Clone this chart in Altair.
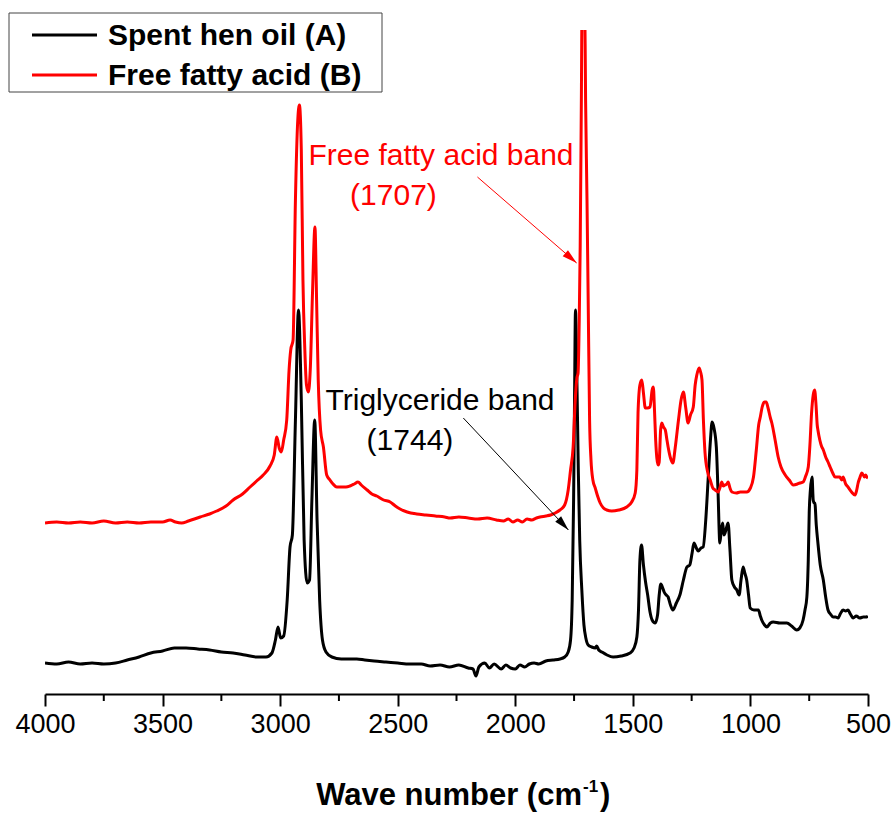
import altair as alt
import pandas as pd

# ---------------- data ----------------
series_names = ["Spent hen oil (A)", "Free fatty acid (B)"]
series_colors = ["#000000", "#ff0000"]

# Spent hen oil (A): wavenumber (cm-1) and absorbance (arbitrary units)
wn_a = [4000, 3950, 3900, 3850, 3800, 3750, 3700, 3650, 3600, 3550,
        3500, 3450, 3400, 3350, 3300, 3250, 3200, 3150, 3100, 3060,
        3035, 3020, 3009, 2998, 2985, 2970, 2958, 2948, 2935, 2922,
        2910, 2898, 2885, 2875, 2865, 2853, 2843, 2832, 2820, 2805,
        2780, 2740, 2700, 2674, 2640, 2600, 2550, 2500, 2450, 2400,
        2362, 2320, 2280, 2240, 2200, 2180, 2167, 2155, 2130, 2110,
        2090, 2060, 2040, 2020, 2000, 1980, 1960, 1940, 1920, 1900,
        1870, 1840, 1810, 1790, 1775, 1765, 1758, 1752, 1748, 1744,
        1738, 1732, 1726, 1717, 1708, 1700, 1690, 1675, 1660, 1654,
        1645, 1632, 1610, 1584, 1550, 1512, 1495, 1483, 1476, 1470,
        1463, 1455, 1446, 1437, 1427, 1418, 1405, 1395, 1388, 1381,
        1373, 1367, 1358, 1350, 1340, 1330, 1315, 1300, 1285, 1270,
        1258, 1248, 1240, 1230, 1222, 1210, 1201, 1190, 1180, 1170,
        1163, 1155, 1145, 1138, 1130, 1124, 1118, 1113, 1108, 1101,
        1095, 1087, 1079, 1068, 1058, 1048, 1040, 1031, 1024, 1016,
        1008, 1001, 985, 966, 958, 952, 940, 930, 915, 903,
        875, 845, 825, 803, 790, 776, 768, 760, 754, 750,
        745, 738, 733, 729, 726, 720, 713, 703, 690, 680,
        670, 660, 648, 638, 627, 618, 606, 595, 585, 575,
        563, 550, 535, 520, 505, 500]
abs_a = [31, 30, 32, 30, 31, 30, 31, 34, 37, 41,
         43, 46, 46, 45, 44, 42, 41, 39, 37, 37,
         41, 54, 67, 56, 58, 94, 147, 159, 274, 384,
         294, 154, 111, 114, 194, 274, 174, 94, 54, 42,
         37, 35, 35, 35, 34, 33, 32, 31, 30, 30,
         28, 29, 27, 29, 26, 25, 18, 27, 31, 26,
         30, 25, 29, 26, 25, 29, 27, 30, 31, 30,
         33, 34, 35, 37, 42, 54, 94, 194, 294, 384,
         314, 224, 154, 104, 69, 56, 49, 47, 46, 48,
         44, 42, 39, 37, 38, 41, 46, 57, 84, 134,
         149, 129, 112, 99, 82, 74, 71, 79, 99, 110,
         106, 102, 99, 97, 89, 84, 91, 99, 114, 127,
         129, 141, 151, 146, 143, 146, 147, 174, 214, 254,
         272, 266, 247, 204, 151, 164, 171, 159, 161, 167,
         171, 144, 114, 107, 104, 99, 114, 127, 121, 114,
         99, 86, 84, 84, 78, 74, 69, 67, 71, 72,
         71, 71, 68, 64, 66, 74, 84, 97, 134, 181,
         204, 217, 194, 191, 191, 169, 151, 129, 114, 97,
         84, 80, 77, 77, 76, 80, 84, 83, 84, 80,
         76, 78, 76, 77, 77, 78]

# Free fatty acid (B)
wn_b = [4000, 3950, 3900, 3850, 3800, 3750, 3700, 3650, 3600, 3550,
        3500, 3468, 3445, 3419, 3390, 3340, 3300, 3270, 3230, 3200,
        3160, 3128, 3100, 3072, 3043, 3025, 3014, 3004, 2995, 2985,
        2972, 2962, 2955, 2945, 2935, 2925, 2918, 2910, 2903, 2895,
        2888, 2880, 2872, 2862, 2852, 2845, 2838, 2828, 2816, 2802,
        2788, 2775, 2759, 2740, 2720, 2703, 2685, 2669, 2655, 2630,
        2610, 2589, 2560, 2532, 2510, 2490, 2460, 2419, 2380, 2340,
        2300, 2277, 2240, 2200, 2160, 2120, 2080, 2050, 2030, 2010,
        1990, 1970, 1950, 1930, 1910, 1895, 1870, 1850, 1830, 1810,
        1790, 1775, 1765, 1754, 1745, 1738, 1733, 1728, 1724, 1719,
        1715, 1706, 1701, 1695, 1690, 1684, 1678, 1670, 1660, 1650,
        1639, 1625, 1611, 1590, 1560, 1526, 1505, 1490, 1483, 1478,
        1470, 1462, 1455, 1447, 1438, 1427, 1418, 1413, 1408, 1403,
        1398, 1392, 1388, 1382, 1377, 1370, 1362, 1355, 1350, 1340,
        1330, 1320, 1306, 1295, 1285, 1275, 1265, 1255, 1243, 1235,
        1228, 1218, 1212, 1206, 1200, 1193, 1182, 1171, 1160, 1150,
        1137, 1130, 1122, 1115, 1108, 1100, 1095, 1087, 1079, 1060,
        1043, 1016, 1000, 987, 975, 965, 958, 950, 940, 933,
        925, 915, 909, 895, 882, 870, 852, 835, 818, 800,
        790, 776, 765, 754, 747, 740, 733, 727, 721, 716,
        713, 705, 698, 690, 680, 670, 661, 650, 640, 633,
        620, 612, 606, 595, 585, 570, 555, 548, 542, 535,
        526, 515, 510, 505, 500]
abs_b = [171, 172, 171, 172, 171, 173, 171, 172, 171, 172,
         172, 174, 172, 171, 173, 177, 180, 183, 188, 194,
         200, 207, 213, 219, 228, 239, 257, 246, 242, 254,
         274, 324, 344, 354, 494, 574, 589, 544, 414, 344,
         309, 302, 324, 404, 467, 394, 314, 264, 247, 219,
         214, 210, 207, 207, 207, 208, 210, 212, 209, 204,
         200, 198, 194, 192, 188, 185, 182, 180, 179, 178,
         177, 176, 177, 176, 175, 176, 174, 173, 175, 172,
         174, 172, 175, 174, 176, 177, 178, 179, 181, 184,
         189, 204, 224, 247, 294, 316, 321, 374, 447, 594,
         720, 720, 594, 494, 394, 274, 234, 214, 206, 198,
         191, 186, 184, 183, 184, 187, 192, 201, 224, 281,
         309, 314, 301, 286, 286, 287, 304, 307, 284, 254,
         236, 229, 232, 264, 271, 267, 264, 254, 247, 236,
         231, 246, 274, 294, 302, 286, 271, 279, 287, 309,
         319, 326, 322, 314, 274, 241, 222, 214, 206, 204,
         202, 206, 212, 208, 209, 210, 212, 206, 202, 201,
         202, 202, 206, 217, 244, 269, 277, 287, 292, 292,
         286, 276, 271, 254, 237, 227, 219, 214, 209, 210,
         211, 212, 218, 227, 249, 281, 299, 304, 289, 269,
         264, 254, 248, 244, 237, 232, 227, 221, 217, 217,
         217, 214, 217, 210, 207, 202, 199, 204, 211, 216,
         221, 217, 219, 217, 216]

major_ticks = [4000, 3500, 3000, 2500, 2000, 1500, 1000, 500]
minor_ticks = [3750, 3250, 2750, 2250, 1750, 1250, 750]

# annotations: label lines, anchor wavenumber, anchor absorbance
ann_text = ["Free fatty acid band", "(1707)", "Triglyceride band", "(1744)"]
ann_wn = [2316, 2518, 2320, 2448]
ann_abs = [529, 489, 284, 244]
ann_color = ["#ff0000", "#ff0000", "#000000", "#000000"]

# arrows: start (wn, abs) -> end (wn, abs)
arr_wn1 = [2161, 2221]
arr_abs1 = [517, 276]
arr_wn2 = [1739, 1774]
arr_abs2 = [431, 164]
arr_color = ["#ff0000", "#000000"]
arr_angle = [131, 137]

FONT = "Liberation Sans"
W, H = 823, 664

df_a = pd.DataFrame({"wn": wn_a, "absorb": abs_a})
df_b = pd.DataFrame({"wn": wn_b, "absorb": abs_b})
df_ann = pd.DataFrame({"t": ann_text, "wn": ann_wn, "absorb": ann_abs, "c": ann_color})
df_arr = pd.DataFrame({"wn": arr_wn1, "absorb": arr_abs1, "wn2": arr_wn2,
                       "absorb2": arr_abs2, "c": arr_color, "ang": arr_angle})
df_minor = pd.DataFrame({"wn": minor_ticks})
one = pd.DataFrame({"k": [0]})

xscale = alt.Scale(domain=[500, 4000], reverse=True, nice=False, zero=False)
yscale = alt.Scale(domain=[0, 664], nice=False, zero=False)

xaxis = alt.Axis(values=major_ticks, title=None, grid=False, format="d",
                 tickSize=12, tickWidth=2, domainWidth=2,
                 domainColor="black", tickColor="black", labelColor="black",
                 labelFont=FONT, labelFontSize=27, labelPadding=5,
                 labelFlush=False, labelOverlap=False)


def X(field="wn"):
    return alt.X(f"{field}:Q", scale=xscale, axis=xaxis)


def Y(field="absorb"):
    return alt.Y(f"{field}:Q", scale=yscale, axis=None)


line_a = alt.Chart(df_a).mark_line(color=series_colors[0], strokeWidth=3,
                                   interpolate="monotone", clip=True).encode(x=X(), y=Y())
line_b = alt.Chart(df_b).mark_line(color=series_colors[1], strokeWidth=3,
                                   interpolate="monotone", clip=True).encode(x=X(), y=Y())

minor = alt.Chart(df_minor).mark_rule(color="black", strokeWidth=2).encode(
    x=X(), y=alt.value(H), y2=alt.value(H + 7))

ann = alt.Chart(df_ann).mark_text(font=FONT, fontSize=30, align="center",
                                  baseline="alphabetic").encode(
    x=X(), y=Y(), text="t:N", color=alt.Color("c:N", scale=None))

arr_line = alt.Chart(df_arr).mark_rule(strokeWidth=1).encode(
    x=X(), y=Y(), x2="wn2:Q", y2="absorb2:Q", color=alt.Color("c:N", scale=None))

arrow_shape = "M0,0L0.4,1.5L-0.4,1.5Z"
heads = []
for i in range(len(arr_wn2)):
    heads.append(
        alt.Chart(df_arr.iloc[[i]]).mark_point(shape=arrow_shape, filled=True, size=400,
                                              opacity=1, angle=arr_angle[i],
                                              color=arr_color[i]).encode(
            x=X("wn2"), y=Y("absorb2")))

# manual legend
leg_box = alt.Chart(one).mark_rect(fill="white", stroke="#444444", strokeWidth=1).encode(
    x=alt.value(-36), x2=alt.value(337), y=alt.value(-17), y2=alt.value(62))
leg_items = []
for i, (name, col) in enumerate(zip(series_names, series_colors)):
    yy = 5 + 40 * i
    leg_items.append(alt.Chart(one).mark_rule(color=col, strokeWidth=3).encode(
        x=alt.value(-13), x2=alt.value(52), y=alt.value(yy)))
    leg_items.append(alt.Chart(one).mark_text(font=FONT, fontSize=30, fontWeight="bold",
                                              align="left", baseline="middle",
                                              color="black").encode(
        x=alt.value(63), y=alt.value(yy + 1), text=alt.value(name)))

# manual axis title with superscript
t1 = alt.Chart(one).mark_text(font=FONT, fontSize=31, fontWeight="bold", align="right",
                              baseline="alphabetic", color="black").encode(
    x=alt.value(537), y=alt.value(775), text=alt.value("Wave number (cm"))
t2 = alt.Chart(one).mark_text(font=FONT, fontSize=17, fontWeight="bold", align="left",
                              baseline="alphabetic", color="black").encode(
    x=alt.value(538), y=alt.value(762), text=alt.value("-1"))
t3 = alt.Chart(one).mark_text(font=FONT, fontSize=31, fontWeight="bold", align="left",
                              baseline="alphabetic", color="black").encode(
    x=alt.value(555), y=alt.value(775), text=alt.value(")"))

chart = alt.layer(line_a, line_b, minor, ann, arr_line, *heads, leg_box, *leg_items,
                  t1, t2, t3).properties(
    width=W, height=H,
    padding={"left": 45, "top": 30, "right": 26, "bottom": 120},
    autosize=alt.AutoSizeParams(type="none"),
    background="white",
).configure_view(stroke=None, strokeWidth=0)

chart.save("out.html", embed_options={"renderer": "svg", "actions": False})
